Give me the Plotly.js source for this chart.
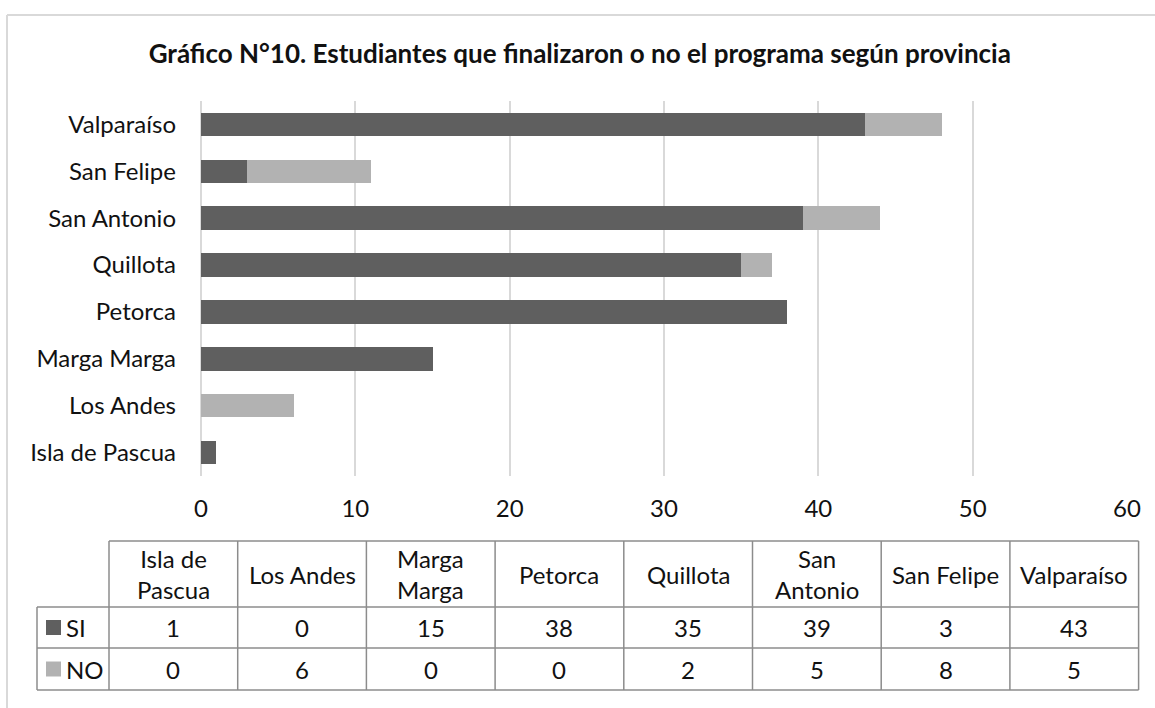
<!DOCTYPE html>
<html>
<head>
<meta charset="utf-8">
<script src="https://cdn.plot.ly/plotly-3.0.1.min.js"></script>
<style>
html,body{margin:0;padding:0;background:#fff;}
#chart{width:1155px;height:708px;}
</style>
</head>
<body>
<div id="chart"></div>
<script>
// ---- data ----
const provincias = ["Isla de Pascua","Los Andes","Marga Marga","Petorca","Quillota","San Antonio","San Felipe","Valparaíso"];
const tableHeaders = ["Isla de<br>Pascua","Los Andes","Marga<br>Marga","Petorca","Quillota","San<br>Antonio","San Felipe","Valparaíso"];
const si = [1,0,15,38,35,39,3,43];
const no = [0,6,0,0,2,5,8,5];
const seriesNames = ["SI","NO"];
const xTicks = [0,10,20,30,40,50,60];
const titleText = "Gráfico N°10. Estudiantes que finalizaron o no el programa según provincia";

// ---- style / layout ----
const W = 1155, H = 708;
const PL = 201, PR = 1127, PT = 101, PB = 476;
const colors = ["#5f5f5f","#b2b2b2"];
const FONT = "Lato, 'Open Sans', sans-serif";
const FS = 24;
const px2x = p => (p - PL) / (PR - PL);
const px2y = p => (PB - p) / (PB - PT);

const traces = [
  {type:"bar", orientation:"h", y:provincias, x:si, name:seriesNames[0], marker:{color:colors[0]}, hoverinfo:"x+y+name"},
  {type:"bar", orientation:"h", y:provincias, x:no, name:seriesNames[1], marker:{color:colors[1]}, hoverinfo:"x+y+name"}
];

const shapes = [];
const annotations = [];
const gridColor = "#8c8c8c";

// outer frame (top and left edges visible)
shapes.push({type:"line", xref:"paper", yref:"paper", x0:px2x(7), x1:px2x(1155), y0:px2y(15), y1:px2y(15), line:{color:"#d9d9d9", width:2}});
shapes.push({type:"line", xref:"paper", yref:"paper", x0:px2x(7), x1:px2x(7), y0:px2y(15), y1:px2y(708), line:{color:"#d9d9d9", width:2}});

// data table geometry
const tLeft = 37, cStart = 109, cW = 128.7;
const rHeadTop = 541, rHeadBot = 607, rSiBot = 648, rNoBot = 690;
const cEnd = cStart + cW * provincias.length;
function hline(py, xa, xb){ shapes.push({type:"line", xref:"paper", yref:"paper", x0:px2x(xa), x1:px2x(xb), y0:px2y(py), y1:px2y(py), line:{color:gridColor, width:1.5}}); }
function vline(px, ya, yb){ shapes.push({type:"line", xref:"paper", yref:"paper", x0:px2x(px), x1:px2x(px), y0:px2y(ya), y1:px2y(yb), line:{color:gridColor, width:1.5}}); }
hline(rHeadTop, cStart, cEnd);
hline(rHeadBot, tLeft, cEnd);
hline(rSiBot, tLeft, cEnd);
hline(rNoBot, tLeft, cEnd);
vline(tLeft, rHeadBot, rNoBot);
for (let i = 0; i <= provincias.length; i++) vline(cStart + cW * i, rHeadTop, rNoBot);

const tFont = {family:FONT, size:FS, color:"#111"};
provincias.forEach((p, i) => {
  const cx = px2x(cStart + cW * (i + 0.5));
  annotations.push({xref:"paper", yref:"paper", x:cx, y:px2y((rHeadTop + rHeadBot) / 2), text:tableHeaders[i], showarrow:false, font:tFont, xanchor:"center", yanchor:"middle", align:"center"});
  annotations.push({xref:"paper", yref:"paper", x:cx, y:px2y((rHeadBot + rSiBot) / 2), text:String(si[i]), showarrow:false, font:tFont, xanchor:"center", yanchor:"middle"});
  annotations.push({xref:"paper", yref:"paper", x:cx, y:px2y((rSiBot + rNoBot) / 2), text:String(no[i]), showarrow:false, font:tFont, xanchor:"center", yanchor:"middle"});
});
// legend keys in table
[[rHeadBot, rSiBot],[rSiBot, rNoBot]].forEach((r, k) => {
  const cy = (r[0] + r[1]) / 2;
  shapes.push({type:"rect", xref:"paper", yref:"paper", x0:px2x(46), x1:px2x(61), y0:px2y(cy - 7.5), y1:px2y(cy + 7.5), fillcolor:colors[k], line:{width:0}});
  annotations.push({xref:"paper", yref:"paper", x:px2x(64), y:px2y(cy), text:seriesNames[k], showarrow:false, font:tFont, xanchor:"left", yanchor:"middle"});
});

const layout = {
  width:W, height:H,
  paper_bgcolor:"#fff", plot_bgcolor:"#fff",
  margin:{l:PL, r:W - PR, t:PT, b:H - PB, pad:0},
  barmode:"stack", bargap:0.5,
  showlegend:false,
  title:{text:"<b>" + titleText + "</b>", xref:"container", x:0.502, xanchor:"center", yref:"container", y:1 - 54 / H, yanchor:"middle", font:{family:FONT, size:26, color:"#111"}},
  xaxis:{range:[0,60], tickvals:xTicks, ticktext:xTicks.map(String), showgrid:true, gridcolor:"#d9d9d9", gridwidth:2, zeroline:true, zerolinecolor:"#d9d9d9", zerolinewidth:2, showline:false, ticks:"", ticklabelstandoff:16, tickfont:{family:FONT, size:FS, color:"#111"}, fixedrange:true},
  yaxis:{type:"category", categoryorder:"array", categoryarray:provincias, showgrid:false, zeroline:false, showline:false, ticks:"", ticklabelstandoff:24, tickfont:{family:FONT, size:FS, color:"#111"}, fixedrange:true},
  shapes:shapes,
  annotations:annotations
};

Plotly.newPlot("chart", traces, layout, {displayModeBar:false, staticPlot:true});
</script>
</body>
</html>
